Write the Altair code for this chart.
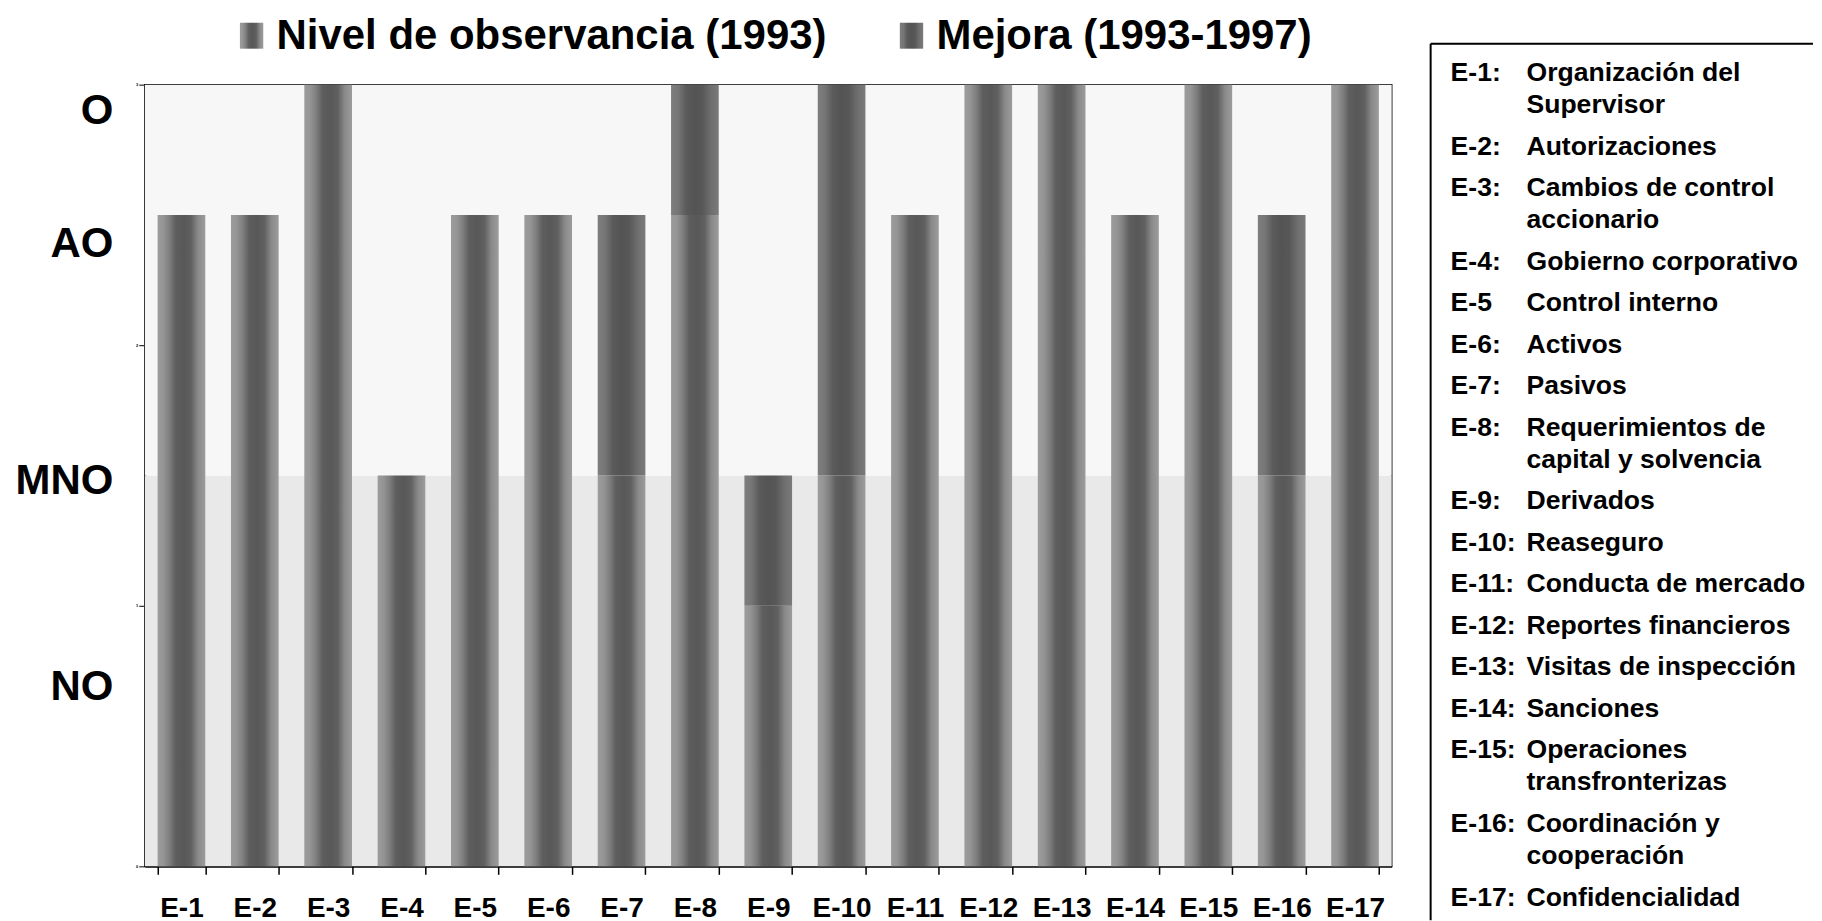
import altair as alt
import pandas as pd

# ---------------- data ----------------
codes = ["E-1", "E-2", "E-3", "E-4", "E-5", "E-6", "E-7", "E-8", "E-9",
         "E-10", "E-11", "E-12", "E-13", "E-14", "E-15", "E-16", "E-17"]
nivel = [2.5, 2.5, 3.0, 1.5, 2.5, 2.5, 1.5, 2.5, 1.0,
         1.5, 2.5, 3.0, 3.0, 2.5, 3.0, 1.5, 3.0]
mejora = [0, 0, 0, 0, 0, 0, 1.0, 0.5, 0.5,
          1.5, 0, 0, 0, 0, 0, 1.0, 0]
series_names = ["Nivel de observancia (1993)", "Mejora (1993-1997)"]

level_labels = ["NO", "MNO", "AO", "O"]
level_label_pos = [0.69, 1.48, 2.39, 2.9]
axis_ticks = [0, 1, 2, 3]

band_lo = [0, 1.5]
band_hi = [1.5, 3]
band_tones = ["bajo", "alto"]

legend_codes = ["E-1:", "E-2:", "E-3:", "E-4:", "E-5", "E-6:", "E-7:", "E-8:",
                "E-9:", "E-10:", "E-11:", "E-12:", "E-13:", "E-14:", "E-15:",
                "E-16:", "E-17:"]
legend_desc = [
    ["Organización del", "Supervisor"],
    ["Autorizaciones"],
    ["Cambios de control", "accionario"],
    ["Gobierno corporativo"],
    ["Control interno"],
    ["Activos"],
    ["Pasivos"],
    ["Requerimientos de", "capital y solvencia"],
    ["Derivados"],
    ["Reaseguro"],
    ["Conducta de mercado"],
    ["Reportes financieros"],
    ["Visitas de inspección"],
    ["Sanciones"],
    ["Operaciones", "transfronterizas"],
    ["Coordinación y", "cooperación"],
    ["Confidencialidad"],
]

# ---------------- styles ----------------
FONT = "Liberation Sans"
band_colors = ["#e9e9e9", "#f7f7f7"]
nivel_stops = [(0, "#9c9c9c"), (0.12, "#959595"), (0.25, "#7e7e7e"), (0.38, "#5e5e5e"),
               (0.55, "#585858"), (0.70, "#606060"), (0.85, "#8a8a8a"), (1, "#9c9c9c")]
mejora_stops = [(0, "#7e7e7e"), (0.15, "#767676"), (0.32, "#5a5a5a"), (0.5, "#545454"),
                (0.66, "#585858"), (0.85, "#707070"), (1, "#7a7a7a")]


def grad_expr(stops):
    s = ", ".join("{offset: %s, color: '%s'}" % (o, c) for o, c in stops)
    return "{gradient: 'linear', x1: 0, y1: 0, x2: 1, y2: 0, stops: [" + s + "]}"


# ---------------- tables ----------------
rows = []
for c, n, m in zip(codes, nivel, mejora):
    rows.append({"code": c, "serie": series_names[0], "lo": 0.0, "hi": n})
    if m > 0:
        rows.append({"code": c, "serie": series_names[1], "lo": n, "hi": n + m})
bars_df = pd.DataFrame(rows)
bands_df = pd.DataFrame({"lo": band_lo, "hi": band_hi, "tone": band_tones})

CONT = 0.783  # continuation line step relative to an entry step
trows = []
u = 0.0
for code, lines in zip(legend_codes, legend_desc):
    trows.append({"txt": code, "col": 0, "u": u})
    for j, line in enumerate(lines):
        trows.append({"txt": line, "col": 1, "u": u + j * CONT})
    u += (len(lines) - 1) * CONT + 1
text_df = pd.DataFrame(trows)

# ---------------- left panel ----------------
W, H = 1249, 783
test_int = "datum.value == floor(datum.value)"
label_expr = " : ".join("datum.value == %s ? '%s'" % (p, l)
                        for l, p in zip(level_labels, level_label_pos)) + " : format(datum.value, 'd')"

y_scale = alt.Scale(domain=[0, 3], nice=False)
y_axis = alt.Axis(
    title=None, grid=False,
    values=axis_ticks + level_label_pos,
    labelExpr=label_expr,
    labelFont=FONT, labelFontWeight="bold", labelColor="black",
    labelFontSize={"condition": {"test": test_int, "value": 4}, "value": 42},
    labelPadding={"condition": {"test": test_int, "value": 1}, "value": 32},
    tickSize={"condition": {"test": test_int, "value": 6}, "value": 0},
    tickColor="black", tickWidth=1,
    labelBaseline="middle", labelOverlap=False,
    domainColor="black", domainWidth=2,
)
x_axis = alt.Axis(
    title=None, labelAngle=0,
    labelFont=FONT, labelFontWeight="bold", labelFontSize=28, labelColor="black",
    labelPadding=20, tickBand="extent", tickSize=8, tickColor="black", tickWidth=1.5,
    domainColor="black", domainWidth=2,
)

bg = alt.Chart(bands_df).mark_rect().encode(
    y=alt.Y("lo:Q", scale=y_scale, axis=y_axis),
    y2="hi:Q",
    fill=alt.Fill("tone:N", scale=alt.Scale(domain=band_tones, range=band_colors), legend=None),
)

legend = alt.Legend(
    orient="none", legendX=86, legendY=-70, direction="horizontal", title=None,
    labelFont=FONT, labelFontWeight="bold", labelFontSize=42, labelColor="black",
    labelLimit=0, labelOffset=4, columnPadding=64,
    symbolType="M-0.9,-1H0.9V1H-0.9Z", symbolSize=676, symbolStrokeWidth=0,
    symbolOpacity=1,
)

bars = alt.Chart(bars_df).mark_bar().encode(
    x=alt.X("code:N", sort=codes, scale=alt.Scale(paddingInner=0.35, paddingOuter=0.175), axis=x_axis),
    y=alt.Y("lo:Q", scale=y_scale, axis=y_axis),
    y2="hi:Q",
    color=alt.Color(
        "serie:N",
        scale=alt.Scale(domain=series_names,
                        range=[alt.ExprRef(expr=grad_expr(nivel_stops)),
                               alt.ExprRef(expr=grad_expr(mejora_stops))]),
        legend=legend,
    ),
)

left = alt.layer(bg, bars).properties(
    width=W, height=H, view=alt.ViewBackground(stroke="black", strokeWidth=1.5)
)

# ---------------- right panel ----------------
RW = 383
PXU = 41.5
d0 = 4 / PXU
text = alt.Chart(text_df).mark_text(
    font=FONT, fontWeight="bold", fontSize=26.6, align="left", baseline="alphabetic", color="black"
).encode(
    x=alt.X("col:Q", scale=alt.Scale(domain=[-20 / 76, -20 / 76 + RW / 76], nice=False, zero=False), axis=None),
    y=alt.Y("u:Q", scale=alt.Scale(domain=[d0, d0 + H / PXU], nice=False, zero=False, reverse=True), axis=None),
    text="txt:N",
)
one = pd.DataFrame({"k": [0]})
rule_top = alt.Chart(one).mark_rule(color="black", strokeWidth=2).encode(
    x=alt.value(0), x2=alt.value(RW), y=alt.value(-41)
)
rule_left = alt.Chart(one).mark_rule(color="black", strokeWidth=2).encode(
    x=alt.value(0), y=alt.value(-41), y2=alt.value(837)
)
right = alt.layer(text, rule_top, rule_left).properties(
    width=RW, height=H, view=alt.ViewBackground(stroke="transparent", strokeWidth=0)
)

chart = alt.hconcat(left, right, spacing=39, bounds="flush").properties(
    padding={"left": 6, "top": 6, "right": 0, "bottom": 0}
).configure_view(stroke="transparent", strokeWidth=0).configure(font=FONT)

chart.save("out.html", embed_options={"renderer": "svg", "actions": False})
